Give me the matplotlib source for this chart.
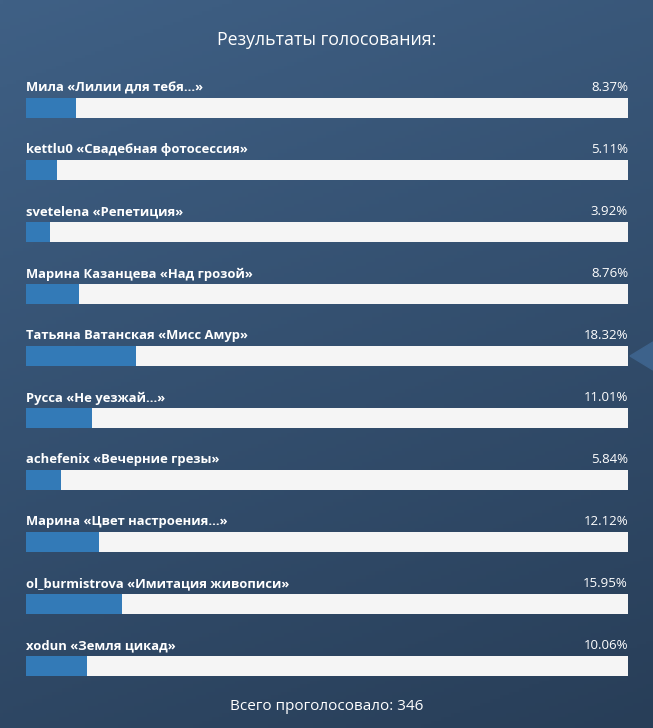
import numpy as np
import matplotlib.pyplot as plt
from matplotlib.patches import Polygon

plt.rcParams['font.family'] = ['Open Sans', 'DejaVu Sans']

title = "Результаты голосования:"
footer = "Всего проголосовало: 346"
names = [
    "Мила «Лилии для тебя...»",
    "kettlu0 «Свадебная фотосессия»",
    "svetelena «Репетиция»",
    "Марина Казанцева «Над грозой»",
    "Татьяна Ватанская «Мисс Амур»",
    "Русса «Не уезжай...»",
    "achefenix «Вечерние грезы»",
    "Марина «Цвет настроения...»",
    "ol_burmistrova «Имитация живописи»",
    "xodun «Земля цикад»",
]
percents = [8.37, 5.11, 3.92, 8.76, 18.32, 11.01, 5.84, 12.12, 15.95, 10.06]

W, H = 653, 728
fig = plt.figure(figsize=(W / 100, H / 100), dpi=100)

# background gradient
bg = fig.add_axes([0, 0, 1, 1])
yy, xx = np.mgrid[0:1:200j, 0:1:200j]
t = 0.75 * yy + 0.25 * xx
top = np.array([63, 96, 133]) / 255
bot = np.array([40, 62, 88]) / 255
img = top[None, None, :] * (1 - t[..., None]) + bot[None, None, :] * t[..., None]
bg.imshow(img, extent=[0, 1, 0, 1], aspect='auto', origin='upper')
bg.set_xlim(0, 1)
bg.set_ylim(0, 1)
bg.axis('off')

# small pointer on the right edge
tri = Polygon([(630 / W, 1 - 356 / H), (1, 1 - 342 / H), (1, 1 - 370 / H)],
              closed=True, transform=fig.transFigure, color='#3d628b', zorder=5)
fig.patches.append(tri)

# bars
ax = fig.add_axes([26 / W, 0, 602 / W, 1])
ax.patch.set_alpha(0)
n = len(names)
ypos = np.arange(n)
ax.set_xlim(0, 100)
ax.set_ylim((H - 108) / 62, -108 / 62)
ax.barh(ypos, [100] * n, height=20 / 62, color='#f5f5f5', left=0)
ax.barh(ypos, percents, height=20 / 62, color='#337ab7')
for i, (name, p) in enumerate(zip(names, percents)):
    ax.text(0, i - 20 / 62, name, ha='left', va='center', color='white',
            fontsize=9.4, fontweight='bold')
    ax.text(100, i - 20 / 62, f"{p:.2f}%", ha='right', va='center',
            color='white', fontsize=9.5)
ax.axis('off')

fig.text(0.5, 1 - 40 / H, title, ha='center', va='center', color='white', fontsize=12.8)
fig.text(0.5, 1 - 707 / H, footer, ha='center', va='center', color='white', fontsize=11)

fig.savefig('out.png', dpi=100)
